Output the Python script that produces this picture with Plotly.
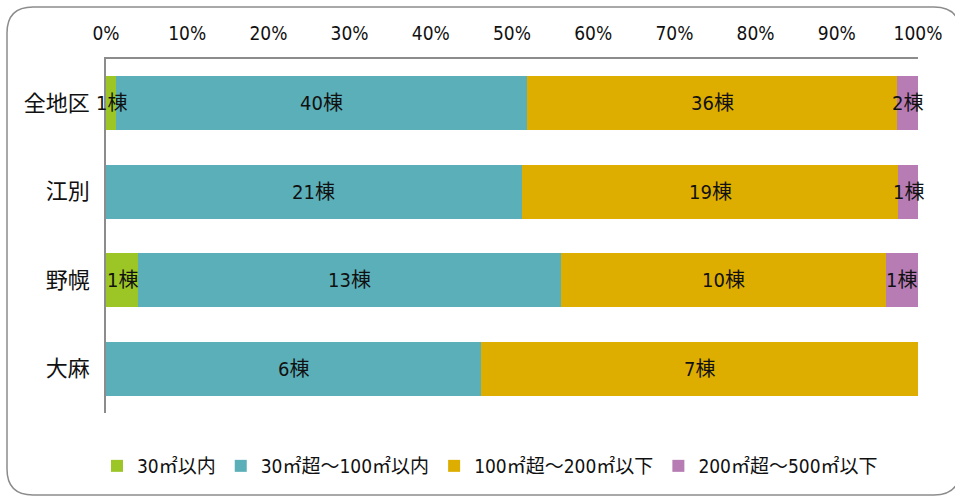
import plotly.graph_objects as go

categories = ["全地区", "江別", "野幌", "大麻"]
series_names = ["30㎡以内", "30㎡超～100㎡以内", "100㎡超～200㎡以下", "200㎡超～500㎡以下"]
s1 = [1, 0, 1, 0]
s2 = [40, 21, 13, 6]
s3 = [36, 19, 10, 7]
s4 = [2, 1, 1, 0]
colors = ["#9BC626", "#5BAFB8", "#DDAD00", "#B77CB4"]
tick_vals = [0, 10, 20, 30, 40, 50, 60, 70, 80, 90, 100]
tick_text = ["0%", "10%", "20%", "30%", "40%", "50%", "60%", "70%", "80%", "90%", "100%"]

FONT = "Liberation Sans Narrow, DejaVu Sans Condensed, Noto Sans CJK JP, sans-serif"
series = [s1, s2, s3, s4]

fig = go.Figure()
for name, vals, col in zip(series_names, series, colors):
    fig.add_trace(go.Bar(
        y=categories, x=vals, name=name, orientation="h",
        marker=dict(color=col, line=dict(width=0)),
        hoverinfo="skip",
    ))

# segment labels via annotations at segment centers (percent)
annotations = []
for ci, cat in enumerate(categories):
    total = sum(s[ci] for s in series)
    cum = 0.0
    for s in series:
        v = s[ci]
        if v > 0:
            pct = v / total * 100
            annotations.append(dict(
                x=cum + pct / 2, y=cat, xref="x", yref="y",
                text=f"{v}棟", showarrow=False,
                font=dict(family=FONT, size=20, color="#111111"),
            ))
            cum += pct

# plot geometry in pixels
L, R, T, B = 106, 37, 59, 84
W, H = 955 - L - R, 497 - T - B

def px(x):
    return (x - L) / W

def py(y):
    return (497 - B - y) / H

x0, x1, y0, y1, r = 7, 960, 7, 495, 26
path = (
    f"M {px(x0 + r)},{py(y0)} L {px(x1 - r)},{py(y0)} "
    f"Q {px(x1)},{py(y0)} {px(x1)},{py(y0 + r)} "
    f"L {px(x1)},{py(y1 - r)} Q {px(x1)},{py(y1)} {px(x1 - r)},{py(y1)} "
    f"L {px(x0 + r)},{py(y1)} Q {px(x0)},{py(y1)} {px(x0)},{py(y1 - r)} "
    f"L {px(x0)},{py(y0 + r)} Q {px(x0)},{py(y0)} {px(x0 + r)},{py(y0)} Z"
)

fig.update_layout(
    barmode="stack", barnorm="percent", bargap=0.39,
    width=955, height=497,
    margin=dict(l=L, r=R, t=T, b=B, autoexpand=False),
    paper_bgcolor="white", plot_bgcolor="white",
    font=dict(family=FONT, size=18, color="#111111"),
    showlegend=True,
    legend=dict(orientation="h", x=px(490), xanchor="center", y=py(466), yanchor="middle",
                font=dict(family=FONT, size=19, color="#111111"),
                traceorder="normal", itemwidth=30, tracegroupgap=0),
    annotations=annotations,
    shapes=[dict(type="path", path=path, xref="paper", yref="paper",
                 line=dict(color="#8C8C8C", width=1.5), layer="below")],
    xaxis=dict(side="top", range=[0, 100], tickvals=tick_vals, ticktext=tick_text,
               showgrid=False, zeroline=False, showline=True, linecolor="#8C8C8C", linewidth=1.5,
               ticks="", ticklabelstandoff=10, tickfont=dict(family=FONT, size=19, color="#111111"),
               fixedrange=True),
    yaxis=dict(autorange="reversed", showgrid=False, zeroline=False, showline=True,
               linecolor="#8C8C8C", linewidth=1.5, ticks="", ticklabelstandoff=10,
               tickfont=dict(family=FONT, size=22, color="#111111"), fixedrange=True),
)

fig.write_html("out.html")
